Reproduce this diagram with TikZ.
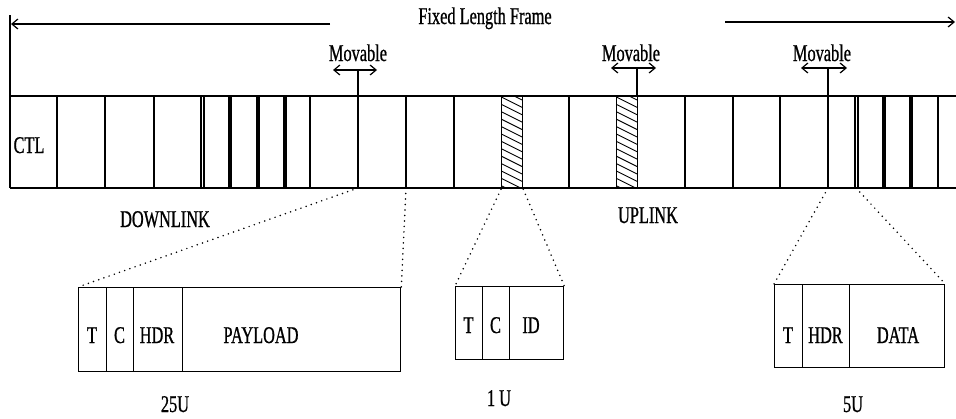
\documentclass[tikz,border=0pt]{standalone}
\usepackage{fontspec}
\setmainfont[FakeStretch=0.68,FakeBold=0.8]{Liberation Serif}
\usetikzlibrary{arrows.meta}
\tikzset{
 lbl/.style={font=\fontsize{24}{26}\selectfont, inner sep=0pt, anchor=base},
 frm/.style={line width=1.5pt},
 cl/.style={line width=1.3pt},
 thk/.style={line width=2.6pt},
 fld/.style={draw, line width=1.3pt, inner sep=0pt, anchor=north west},
 dots/.style={line width=1.7pt, dash pattern=on 0pt off 5.5pt, line cap=round},
 barb/.tip={Straight Barb[length=6pt,width=10pt]},
 arr/.style={line width=1.2pt, -barb},
 darr/.style={line width=1.2pt, barb-barb},
 hatch/.style={line width=0.9pt},
}
\begin{document}
\begin{tikzpicture}[x=1pt,y=-1pt]
\useasboundingbox (0,0) rectangle (956,418);

% title and frame-length arrows
\node[lbl] (title) at (485,24) {Fixed Length Frame};
\coordinate (la) at (330,24);
\coordinate (lb) at (11,24);
\coordinate (ra) at (725,22);
\coordinate (rb) at (955,22);
\draw[arr] (la) -- (lb);
\draw[arr] (ra) -- (rb);

% left border
\coordinate (ltop) at (10,15);
\coordinate (lbot) at (10,188);
\draw[cl] (ltop) -- (lbot);

% frame top / bottom
\draw[frm] (10,96) -- (956,96);
\draw[frm] (10,188) -- (956,188);

% cell boundaries
\foreach \x in {57,105,154,201,204,229,231,257,259,284,286,310,406,454,569,685,733,780,855,858,883,885,910,912}
  \draw[cl] (\x,96) -- (\x,188);
\foreach \x in {358,828,938}
  \draw[thk] (\x,96) -- (\x,188);

% hatched cells
\foreach \a/\b/\n in {501/522/h1,616/637/h2}{
  \begin{scope}
    \clip (\a,96) rectangle (\b,188);
    \foreach \k in {0,...,16}
      \draw[hatch] (\a-4,{80+\k*7.4}) -- (\b+4,{80+\k*7.4+14.5});
  \end{scope}
  \node[fld, minimum width={\b-\a}, minimum height=92pt] (\n) at (\a,96) {};
}

% movable markers
\foreach \c/\y/\l/\r/\n in {358/70/333/377/m1, 637/68/611/656/m2, 828/68/801/847/m3}{
  \coordinate (\n top) at (\c,\y);
  \coordinate (\n bot) at (\c,96);
  \coordinate (\n l) at (\l,\y);
  \coordinate (\n r) at (\r,\y);
  \draw[cl, line width=1.1pt] (\n top) -- (\n bot);
  \draw[darr] (\n l) -- (\n r);
}
\node[lbl] (mv1) at (358,61) {Movable};
\node[lbl] (mv2) at (631,61) {Movable};
\node[lbl] (mv3) at (822,61) {Movable};

% frame labels
\node[lbl] (ctl) at (29,153) {CTL};
\node[lbl] (down) at (165,227) {DOWNLINK};
\node[lbl] (up) at (648,223) {UPLINK};

% box 1 (25U)
\node[fld, minimum width=28pt, minimum height=84pt] (b1t) at (78,287) {};
\node[fld, minimum width=27pt, minimum height=84pt] (b1c) at (106,287) {};
\node[fld, minimum width=49pt, minimum height=84pt] (b1h) at (133,287) {};
\node[fld, minimum width=218pt, minimum height=84pt] (b1p) at (182,287) {};
\node[lbl] (t1) at (92,343) {T};
\node[lbl] (c1) at (119.5,343) {C};
\node[lbl] (h1t) at (157,343) {HDR};
\node[lbl] (p1) at (261,343) {PAYLOAD};
\node[lbl] (u1) at (175,412) {25U};

% box 2 (1 U)
\node[fld, minimum width=27pt, minimum height=73pt] (b2t) at (455,286) {};
\node[fld, minimum width=27pt, minimum height=73pt] (b2c) at (482,286) {};
\node[fld, minimum width=54pt, minimum height=73pt] (b2i) at (509,286) {};
\node[lbl] (t2) at (468.5,333) {T};
\node[lbl] (c2) at (495.5,333) {C};
\node[lbl] (i2) at (531,333) {ID};
\node[lbl] (u2) at (499,406) {1\,U};

% box 3 (5U)
\node[fld, minimum width=28pt, minimum height=83pt] (b3t) at (774,284) {};
\node[fld, minimum width=47pt, minimum height=83pt] (b3h) at (802,284) {};
\node[fld, minimum width=95pt, minimum height=83pt] (b3d) at (849,284) {};
\node[lbl] (t3) at (788,343) {T};
\node[lbl] (h3) at (825.5,343) {HDR};
\node[lbl] (d3) at (898,343) {DATA};
\node[lbl] (u3) at (853,412) {5U};

% dotted zoom connectors
\coordinate (z1a) at (358,188);
\coordinate (z1b) at (406,188);
\coordinate (z3a) at (828,188);
\coordinate (z3b) at (856,188);
\draw[dots] (z1a) -- (b1t.north west);
\draw[dots] (z1b) -- (b1p.north east);
\draw[dots] (h1.south west) -- (b2t.north west);
\draw[dots] (h1.south east) -- (b2i.north east);
\draw[dots] (z3a) -- (b3t.north west);
\draw[dots] (z3b) -- (b3d.north east);
\end{tikzpicture}
\end{document}
